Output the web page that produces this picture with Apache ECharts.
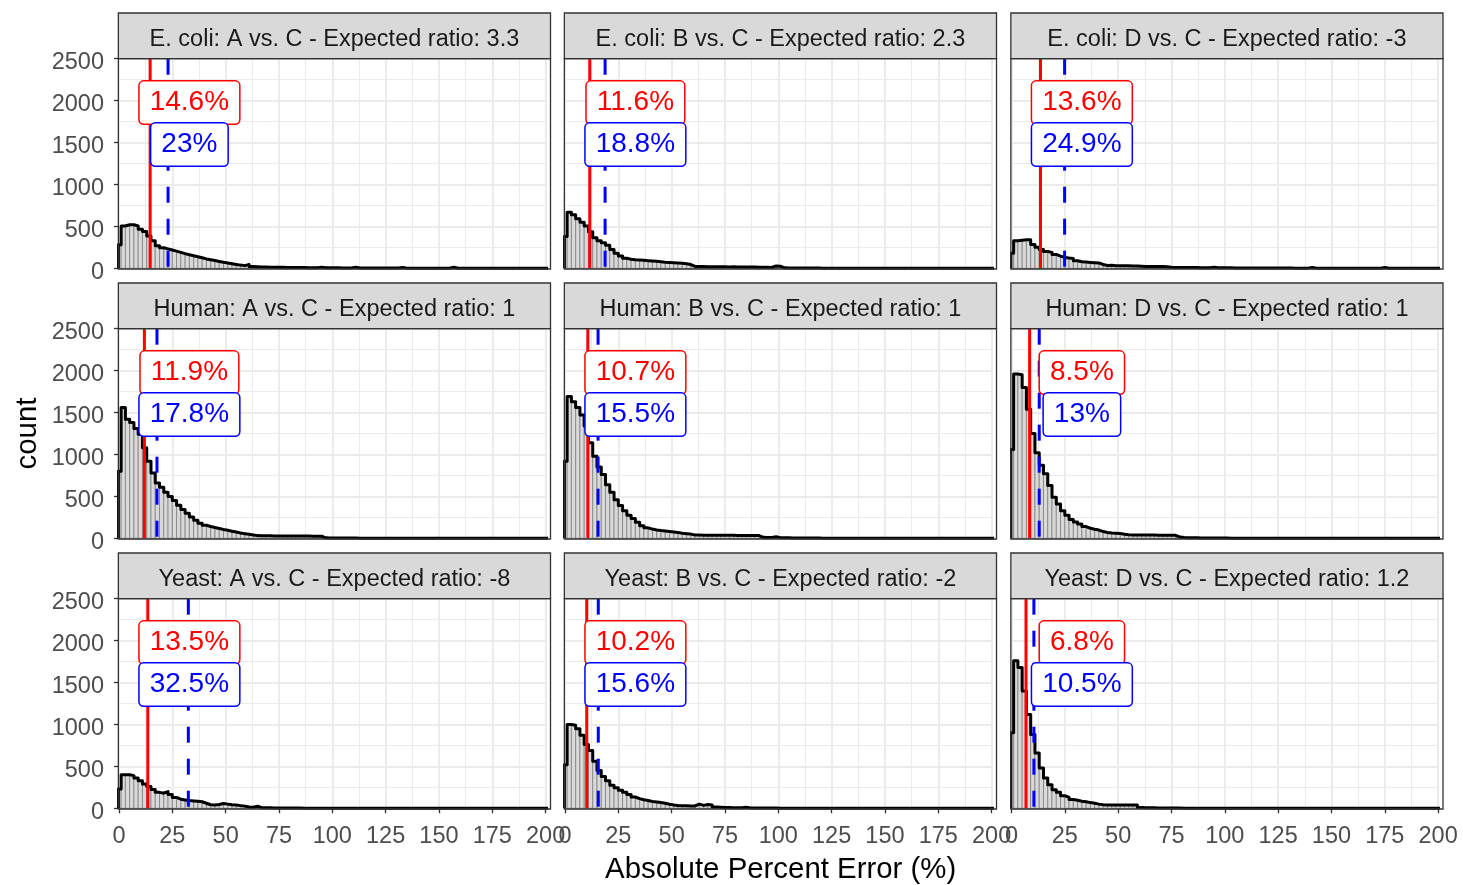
<!DOCTYPE html>
<html><head><meta charset="utf-8">
<script src="https://cdn.jsdelivr.net/npm/echarts@6/dist/echarts.min.js"></script>
<style>html,body{margin:0;padding:0;background:#fff}#c{width:1463px;height:885px}</style>
</head><body><div id="c"></div>
<script>
// ---------------- data ----------------
const species = ['E. coli', 'Human', 'Yeast'];
const comparisons = ['A vs. C', 'B vs. C', 'D vs. C'];
const expectedRatios = [[3.3, 2.3, -3], [1, 1, 1], [-8, -2, 1.2]];
const medianError = [[14.6, 11.6, 13.6], [11.9, 10.7, 8.5], [13.5, 10.2, 6.8]];   // red solid line
const meanError = [[23, 18.8, 24.9], [17.8, 15.5, 13], [32.5, 15.6, 10.5]];       // blue dashed line
const binWidth = 2;                      // bins centred on 0, 2, 4, ...
const xTicks = [0, 25, 50, 75, 100, 125, 150, 175, 200];
const yTicks = [0, 500, 1000, 1500, 2000, 2500];

const countsEcoliAC = [280,505,520,520,505,465,440,385,330,270,245,232,218,205,190,175,162,150,138,125,112,102,92,82,72,64,55,46,38,32,45,20,18,16,15,14,13,12,12,11,10,10,9,9,8,8,8,14,7,7,6,6,5,5,5,12,4,4,4,3,3,3,3,3,3,3,10,2,2,2,2,2,2,2,2,2,2,2,12,1,1,1,1,1];
const countsEcoliBC = [380,670,640,590,550,505,435,365,330,305,275,225,180,148,120,108,102,99,95,91,88,83,78,73,70,67,64,60,55,45,22,20,20,19,19,18,18,18,17,17,16,16,15,15,15,14,14,12,10,28,24,6,5,5,4,4,4,3,3,3,2,2,2,2,2,1,1,1];
const countsEcoliDC = [180,330,335,340,340,285,250,225,200,190,165,145,130,122,118,90,78,74,70,67,64,45,34,35,31,30,30,29,28,27,24,22,22,21,21,20,18,12,11,10,10,9,9,9,8,8,8,14,7,7,6,6,5,5,5,4,4,4,4,3,3,3,3,3,3,3,2,2,2,2,10,2,2,2,1,1,1,1,1,1,1,1,1,1,1,1,1,9,1];
const countsHumanAC = [800,1560,1420,1380,1310,1240,1080,920,780,660,610,550,500,450,395,345,300,255,215,180,155,140,128,118,105,95,85,75,63,55,48,40,32,30,29,29,28,28,28,27,27,27,26,26,26,25,25,24,6,5,5,4,4,3,3,3,2,2,2,2,1,1,1,1];
const countsHumanBC = [920,1690,1630,1560,1470,1340,1140,980,850,760,640,550,460,390,330,275,235,190,150,125,110,100,93,88,82,75,68,60,55,50,40,38,37,37,36,36,36,35,35,35,34,34,33,33,32,32,12,10,9,18,8,7,6,5,5,4,4,3,3,3,2,2,2,2,1,1,1];
const countsHumanDC = [1060,1960,1950,1800,1540,1250,1020,870,770,630,490,410,330,275,225,195,170,140,120,108,98,80,70,64,60,56,48,42,40,40,39,39,38,38,37,37,36,36,35,15,9,8,7,6,5,5,4,4,3,3,3,2,2,2,1,1,1];
const countsYeastAC = [230,400,400,390,360,330,290,260,225,190,180,200,165,130,108,100,92,88,84,78,60,42,40,45,58,50,42,38,32,26,15,12,25,8,7,6,5,5,4,4,3,3,3,2,2,2,1,1,1];
const countsYeastBC = [520,1000,990,950,870,760,690,560,450,380,330,275,245,215,190,165,135,115,102,92,82,76,68,60,48,40,34,30,29,28,28,50,35,45,40,15,12,10,9,8,7,6,12,5,5,4,4,3,3,3,2,2,2,1,1,1];
const countsYeastDC = [900,1760,1680,1400,1120,880,660,480,360,280,220,190,150,130,105,95,85,78,68,60,50,42,40,40,40,40,40,39,38,38,10,8,7,6,5,5,4,4,3,3,2,2,2,1,1];

const histograms = [
  [countsEcoliAC, countsEcoliBC, countsEcoliDC],
  [countsHumanAC, countsHumanBC, countsHumanDC],
  [countsYeastAC, countsYeastBC, countsYeastDC]
];

// ---------------- layout / style ----------------
const FONT = '"Liberation Sans", Arial, Helvetica, sans-serif';
const PX = 2.133;                         // px per x unit
const colX0 = [119, 565, 1011.5];         // pixel of x = 0
const rowTop = [58.7, 328.7, 598.7];
const plotH = 209.6;
const STRIP_H = 45.7;
const XMIN = -0.3, XMAX = 202.3;          // visible panel range (expanded)
const LABEL_X = 33, RED_LABEL_Y = 2000, BLUE_LABEL_Y = 1500;

const xMin = xTicks[0], xMax = xTicks[xTicks.length - 1], xInt = xTicks[1] - xTicks[0];
const yMin = yTicks[0], yMax = yTicks[yTicks.length - 1], yInt = yTicks[1] - yTicks[0];
const plotW = (xMax - xMin) * PX;

const grid = [], xAxis = [], yAxis = [], series = [], graphic = [];

for (let r = 0; r < 3; r++) {
  for (let c = 0; c < 3; c++) {
    const i = r * 3 + c;
    const counts = histograms[r][c];
    grid.push({ left: colX0[c], top: rowTop[r], width: plotW, height: plotH, containLabel: false });
    xAxis.push({
      type: 'value', gridIndex: i, min: xMin, max: xMax, interval: xInt,
      axisLine: { show: false },
      axisTick: { show: r === 2, length: 5, lineStyle: { color: '#333', width: 1.3 } },
      axisLabel: { show: r === 2, color: '#4d4d4d', fontSize: 23.5, fontFamily: FONT, margin: 16,
                   formatter: v => String(v) },
      splitLine: { show: true, lineStyle: { color: '#ebebeb', width: 2 } },
      minorTick: { show: false, splitNumber: 2 },
      minorSplitLine: { show: true, lineStyle: { color: '#ebebeb', width: 1 } }
    });
    yAxis.push({
      type: 'value', gridIndex: i, min: yMin, max: yMax, interval: yInt,
      axisLine: { show: false },
      axisTick: { show: c === 0, length: 5, lineStyle: { color: '#333', width: 1.3 } },
      axisLabel: { show: c === 0, margin: 15,
                   formatter: v => '{t|' + v + '}',
                   rich: { t: { color: '#4d4d4d', fontSize: 23.5, fontFamily: FONT, padding: [8, 0, 0, 0] } } },
      splitLine: { show: true, lineStyle: { color: '#ebebeb', width: 2 } },
      minorTick: { show: false, splitNumber: 2 },
      minorSplitLine: { show: true, lineStyle: { color: '#ebebeb', width: 1 } }
    });

    // pad with empty bins to the right edge
    const nBins = Math.ceil((XMAX + binWidth / 2) / binWidth) + 1;
    const full = counts.slice();
    while (full.length < nBins) full.push(0);

    // histogram bars
    series.push({
      type: 'custom', xAxisIndex: i, yAxisIndex: i, z: 2, clip: false, silent: true,
      data: full.map((v, k) => [k * binWidth, v]),
      renderItem: function (params, api) {
        const ctr = api.value(0), cnt = api.value(1);
        const x0 = Math.max(ctr - binWidth / 2, XMIN), x1 = Math.min(ctr + binWidth / 2, XMAX);
        if (x1 <= x0 || cnt <= 0) return null;
        const p0 = api.coord([x0, cnt]), p1 = api.coord([x1, 0]);
        return { type: 'rect', shape: { x: p0[0], y: p0[1], width: p1[0] - p0[0], height: p1[1] - p0[1] },
                 style: { fill: '#d9d9d9', stroke: '#808080', lineWidth: 0.8 } };
      }
    });

    // outline (step)
    const step = [[XMIN, 0]];
    full.forEach((v, k) => {
      const x0 = Math.max(k * binWidth - binWidth / 2, XMIN), x1 = Math.min(k * binWidth + binWidth / 2, XMAX);
      if (x1 <= x0) return;
      step.push([x0, v], [x1, v]);
    });
    series.push({
      type: 'line', xAxisIndex: i, yAxisIndex: i, z: 3, clip: false, silent: true,
      data: step, symbol: 'none', animation: false,
      lineStyle: { color: '#000', width: 3, join: 'round' }
    });

    // vertical reference lines
    const vline = (val, color, dash) => ({
      type: 'custom', xAxisIndex: i, yAxisIndex: i, z: 4, clip: false, silent: true,
      data: [[val]],
      renderItem: function (params, api) {
        const top = api.coord([api.value(0), yMax]), bot = api.coord([api.value(0), yMin]);
        return { type: 'line', shape: { x1: top[0], y1: top[1], x2: bot[0], y2: bot[1] },
                 style: { stroke: color, lineWidth: 3, lineDash: dash } };
      }
    });
    series.push(vline(medianError[r][c], '#ff0000', null));
    series.push(vline(meanError[r][c], '#0000ff', [16, 16]));

    // labels
    const label = (val, y, color) => ({
      type: 'custom', xAxisIndex: i, yAxisIndex: i, z: 5, clip: false, silent: true,
      data: [[LABEL_X, y, val]],
      renderItem: function (params, api) {
        const p = api.coord([api.value(0), api.value(1)]);
        const txt = api.value(2) + '%';
        return { type: 'text', x: p[0], y: p[1] + 2,
                 style: { text: txt, fill: color, font: '28px ' + FONT,
                          align: 'center', verticalAlign: 'middle', textAlign: 'center', textVerticalAlign: 'middle',
                          backgroundColor: '#ffffff', borderColor: color, borderWidth: 1.5, borderRadius: 4,
                          padding: [13, 10, 7, 10], lineHeight: 22 } };
      }
    });
    series.push(label(medianError[r][c], RED_LABEL_Y, '#ff0000'));
    series.push(label(meanError[r][c], BLUE_LABEL_Y, '#0000ff'));

    // panel border & strip
    const bx = colX0[c] + XMIN * PX, bw = (XMAX - XMIN) * PX;
    graphic.push({ type: 'rect', z: 100, silent: true,
      shape: { x: bx, y: rowTop[r], width: bw, height: plotH + 0.7 },
      style: { fill: 'none', stroke: '#333333', lineWidth: 1.3 } });
    graphic.push({ type: 'rect', z: 100, silent: true,
      shape: { x: bx, y: rowTop[r] - STRIP_H, width: bw, height: STRIP_H },
      style: { fill: '#d9d9d9', stroke: '#333333', lineWidth: 1.3 } });
    graphic.push({ type: 'text', z: 101, silent: true,
      x: bx + bw / 2, y: rowTop[r] - STRIP_H / 2 + 4,
      style: { text: species[r] + ': ' + comparisons[c] + ' - Expected ratio: ' + expectedRatios[r][c],
               fill: '#1a1a1a', font: '23.5px ' + FONT,
               align: 'center', verticalAlign: 'middle', textAlign: 'center', textVerticalAlign: 'middle' } });
  }
}

graphic.push({ type: 'text', z: 101, silent: true, x: (colX0[0] + XMIN * PX + colX0[2] + XMAX * PX) / 2, y: 870,
  style: { text: 'Absolute Percent Error (%)', fill: '#000', font: '29.4px ' + FONT,
           align: 'center', verticalAlign: 'middle', textAlign: 'center', textVerticalAlign: 'middle' } });
graphic.push({ type: 'text', z: 101, silent: true, x: 28, y: (rowTop[0] + rowTop[2] + plotH) / 2, rotation: Math.PI / 2,
  style: { text: 'count', fill: '#000', font: '29.4px ' + FONT,
           align: 'center', verticalAlign: 'middle', textAlign: 'center', textVerticalAlign: 'middle' } });

const chart = echarts.init(document.getElementById('c'), null, { renderer: 'canvas', width: 1463, height: 885 });
chart.setOption({ animation: false, backgroundColor: '#ffffff', grid, xAxis, yAxis, series, graphic });
</script>
</body></html>
